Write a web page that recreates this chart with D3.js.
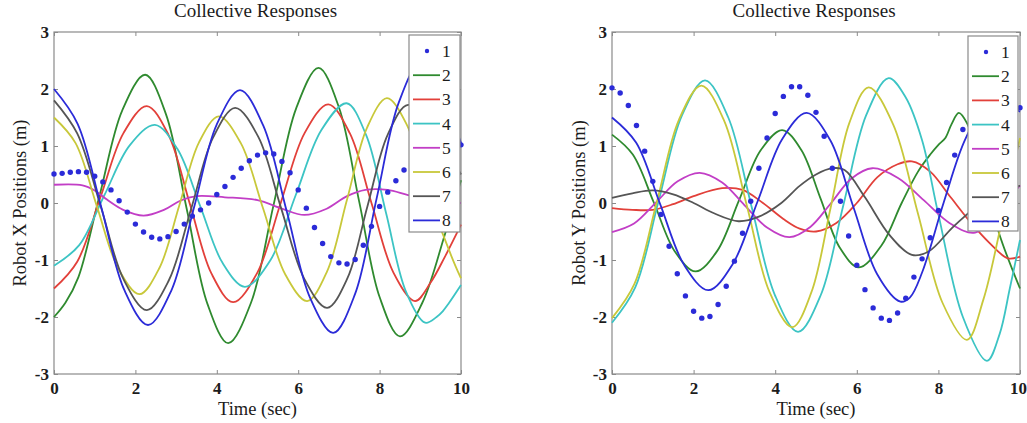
<!DOCTYPE html>
<html><head><meta charset="utf-8">
<script src="https://cdn.jsdelivr.net/npm/d3@7"></script>
<style>
body{margin:0;background:#fff}
svg{display:block}
text{font-family:"Liberation Serif","Times New Roman",serif;fill:#1c1c1c}
</style>
</head><body>
<svg id="chart" width="1027" height="423"></svg>
<script>
// ---------- labels / ticks ----------
const seriesNames = ["1","2","3","4","5","6","7","8"];
const seriesColors = ["#2b2bd8","#2f8a2f","#e2403a","#3cc4c4","#c23ec6","#c8c83a","#555555","#2b2bd8"];
const xTicks = [0,2,4,6,8,10];
const yTicks = [-3,-2,-1,0,1,2,3];
const titleText = "Collective Responses";
const xLabelText = "Time (sec)";
const yLabelLeft = "Robot X Positions (m)";
const yLabelRight = "Robot Y Positions (m)";

// ---------- series 1 (markers) ----------
const dotTimes = [0,0.2,0.4,0.6,0.8,1.0,1.2,1.4,1.6,1.8,2.0,2.2,2.4,2.6,2.8,3.0,3.2,3.4,3.6,3.8,4.0,4.2,4.4,4.6,4.8,5.0,5.2,5.4,5.6,5.8,6.0,6.2,6.4,6.6,6.8,7.0,7.2,7.4,7.6,7.8,8.0,8.2,8.4,8.6,8.8,9.0,9.2,9.4,9.6,9.8,10.0];
const xS1 = [0.51,0.52,0.54,0.55,0.54,0.47,0.37,0.23,0.04,-0.16,-0.37,-0.51,-0.60,-0.63,-0.59,-0.50,-0.37,-0.23,-0.12,0.00,0.15,0.29,0.45,0.61,0.74,0.84,0.88,0.86,0.73,0.53,0.23,-0.09,-0.43,-0.71,-0.94,-1.05,-1.07,-0.99,-0.74,-0.41,-0.06,0.19,0.39,0.58,0.75,0.88,0.98,1.04,1.06,1.05,1.02];
const yS1 = [2.02,1.93,1.71,1.36,0.91,0.38,-0.20,-0.76,-1.24,-1.63,-1.90,-2.02,-1.99,-1.78,-1.46,-1.02,-0.53,0.03,0.61,1.14,1.57,1.87,2.04,2.04,1.89,1.59,1.17,0.61,0.03,-0.58,-1.09,-1.52,-1.84,-2.02,-2.06,-1.93,-1.67,-1.30,-0.98,-0.61,-0.13,0.36,0.84,1.29,1.62,1.85,1.98,2.00,1.95,1.82,1.67];

// ---------- left chart (X positions): [time, value] ----------
const xS2 = [[0,-2.0],[0.28,-1.75],[0.6,-1.3],[1.12,0.13],[1.68,1.63],[2.24,2.25],[2.75,1.56],[3.26,-0.1],[3.77,-1.77],[4.28,-2.46],[4.84,-1.75],[5.39,-0.05],[5.95,1.66],[6.5,2.37],[7.0,1.68],[7.5,0.02],[8.0,-1.65],[8.5,-2.34],[9.05,-1.75],[9.6,-0.56],[10,0.4]];
const xS3 = [[0,-1.5],[0.57,-1.03],[1.14,0.1],[1.71,1.23],[2.28,1.7],[2.81,1.2],[3.34,-0.02],[3.87,-1.24],[4.4,-1.74],[4.99,-1.23],[5.57,0.0],[6.16,1.23],[6.74,1.73],[7.27,1.22],[7.8,0.0],[8.34,-1.22],[8.87,-1.72],[9.25,-1.4],[9.6,-0.95],[10,-0.38]];
const xS4 = [[0,-1.1],[0.62,-0.74],[1.24,0.14],[1.86,1.01],[2.48,1.37],[3.03,0.95],[3.59,-0.05],[4.14,-1.05],[4.69,-1.47],[5.32,-1.0],[5.94,0.14],[6.57,1.28],[7.19,1.75],[7.67,1.19],[8.16,-0.18],[8.64,-1.54],[9.12,-2.1],[9.4,-2.0],[9.55,-1.9],[9.7,-1.76],[10,-1.44]];
const xS5 = [[0,0.32],[0.7,0.31],[1.0,0.22],[1.3,0.06],[1.7,-0.12],[2.2,-0.22],[2.7,-0.12],[3.1,0.04],[3.5,0.12],[4.2,0.1],[5.0,0.05],[5.6,-0.1],[6.15,-0.21],[6.7,-0.1],[7.2,0.12],[7.65,0.23],[8.2,0.23],[8.7,0.14],[9.3,0.05],[10,0.0]];
const xS6 = [[0,1.5],[0.53,1.05],[1.05,-0.05],[1.58,-1.15],[2.1,-1.6],[2.59,-1.14],[3.08,-0.04],[3.56,1.06],[4.05,1.52],[4.59,1.05],[5.14,-0.1],[5.68,-1.25],[6.22,-1.72],[6.71,-1.2],[7.2,0.06],[7.69,1.32],[8.18,1.84],[8.67,1.37],[9.25,0.05],[9.86,-1.1],[10,-1.32]];
const xS7 = [[0,1.8],[0.57,1.22],[1.14,-0.04],[1.71,-1.34],[2.28,-1.88],[2.82,-1.36],[3.37,-0.1],[3.91,1.15],[4.45,1.67],[5.02,1.16],[5.58,-0.09],[6.15,-1.33],[6.71,-1.84],[7.21,-1.32],[7.7,-0.06],[8.2,1.2],[8.7,1.72],[9.3,1.3],[10,0.5]];
const xS8 = [[0,2.0],[0.58,1.39],[1.16,-0.07],[1.73,-1.53],[2.31,-2.14],[2.88,-1.54],[3.44,-0.08],[4.0,1.38],[4.57,1.98],[5.14,1.36],[5.72,-0.15],[6.29,-1.66],[6.86,-2.28],[7.4,-1.59],[7.93,0.09],[8.47,1.76],[9.0,2.45],[9.5,1.95],[10,1.05]];

// ---------- right chart (Y positions): [time, value] ----------
const yS2 = [[0,1.2],[0.51,0.85],[1.03,0.0],[1.54,-0.85],[2.05,-1.2],[2.58,-0.84],[3.11,0.04],[3.64,0.92],[4.17,1.28],[4.64,0.93],[5.11,0.08],[5.58,-0.78],[6.05,-1.13],[6.6,-0.75],[7.1,0.0],[7.5,0.55],[7.8,0.85],[8.0,1.02],[8.17,1.14],[8.32,1.38],[8.5,1.58],[8.7,1.4],[9.1,0.5],[9.5,-0.56],[10,-1.5]];
const yS3 = [[0,-0.09],[0.5,-0.12],[1.0,-0.12],[1.5,-0.02],[2.0,0.12],[2.7,0.26],[3.2,0.23],[3.7,0.0],[4.2,-0.28],[4.6,-0.45],[5.0,-0.5],[5.5,-0.35],[6.0,0.0],[6.5,0.45],[7.0,0.68],[7.35,0.73],[7.8,0.55],[8.3,0.1],[8.8,-0.35],[9.25,-0.7],[9.7,-0.97],[10,-0.94]];
const yS4 = [[0,-2.1],[0.57,-1.48],[1.14,0.03],[1.71,1.53],[2.28,2.15],[2.85,1.5],[3.42,-0.06],[3.99,-1.61],[4.56,-2.26],[5.12,-1.61],[5.67,-0.04],[6.23,1.54],[6.78,2.19],[7.2,1.85],[7.6,1.1],[8.0,-0.2],[8.6,-2.0],[9.19,-2.77],[9.5,-2.3],[9.75,-1.5],[10,-0.65]];
const yS5 = [[0,-0.51],[0.54,-0.36],[1.08,0.01],[1.61,0.38],[2.15,0.53],[2.7,0.36],[3.25,-0.04],[3.8,-0.43],[4.35,-0.6],[4.86,-0.42],[5.37,0.0],[5.87,0.43],[6.38,0.61],[7.01,0.44],[7.64,0.05],[8.27,-0.35],[8.9,-0.52],[9.5,-0.1],[10,0.31]];
const yS6 = [[0,-2.02],[0.55,-1.42],[1.1,0.02],[1.64,1.46],[2.19,2.06],[2.75,1.44],[3.31,-0.06],[3.86,-1.56],[4.42,-2.18],[4.89,-1.56],[5.36,-0.08],[5.82,1.41],[6.29,2.03],[6.89,1.38],[7.5,-0.19],[8.1,-1.75],[8.7,-2.4],[9.1,-1.7],[9.5,-0.5],[9.75,0.35],[10,1.14]];
const yS7 = [[0,0.09],[0.5,0.17],[1.0,0.22],[1.5,0.15],[2.0,0.0],[2.5,-0.18],[3.1,-0.32],[3.6,-0.24],[4.15,0.0],[4.6,0.3],[5.0,0.5],[5.4,0.61],[5.7,0.58],[6.2,0.1],[6.8,-0.56],[7.35,-0.91],[7.76,-0.85],[8.33,-0.44],[8.7,-0.2],[9.2,0.1],[9.6,0.25],[10,0.3]];
const yS8 = [[0,1.5],[0.59,1.06],[1.18,-0.02],[1.77,-1.09],[2.36,-1.53],[2.96,-1.07],[3.57,0.03],[4.17,1.12],[4.77,1.58],[5.35,1.1],[5.92,-0.08],[6.5,-1.25],[7.07,-1.73],[7.3,-1.66],[7.6,-1.22],[8.13,0.01],[8.66,1.12],[9.2,1.75],[9.6,1.72],[10,1.6]];

const svg = d3.select("#chart");

function drawPanel(cfg) {
  const x = d3.scaleLinear().domain([0,10]).range([cfg.x0, cfg.x1]);
  const y = d3.scaleLinear().domain([-3,3]).range([374, 32]);
  const g = svg.append("g");
  const axisColor = "#8a8a8a";

  // frame
  g.append("rect").attr("x", cfg.x0).attr("y", 32)
    .attr("width", cfg.x1 - cfg.x0).attr("height", 342)
    .attr("fill", "none").attr("stroke", axisColor).attr("stroke-width", 1.2);

  const styleAxis = sel => {
    sel.select(".domain").remove();
    sel.selectAll(".tick line").attr("stroke", axisColor);
    sel.selectAll(".tick text").attr("font-size", 17).attr("font-weight", "bold").attr("fill", "#222")
      .attr("font-family", '"Liberation Serif","Times New Roman",serif');
  };
  const fmt = d => String(d);
  const xb = g.append("g").attr("transform", `translate(0,374)`)
    .call(d3.axisBottom(x).tickValues(xTicks).tickFormat(fmt).tickSizeInner(-4).tickSizeOuter(0).tickPadding(8))
    .call(styleAxis);
  if (cfg.lastTickShift) {
    xb.selectAll(".tick text").filter(d => d === 10).attr("dx", cfg.lastTickShift);
  }
  g.append("g").attr("transform", `translate(0,32)`)
    .call(d3.axisTop(x).tickValues(xTicks).tickFormat("").tickSizeInner(-4).tickSizeOuter(0))
    .call(styleAxis);
  g.append("g").attr("transform", `translate(${cfg.x0},0)`)
    .call(d3.axisLeft(y).tickValues(yTicks).tickFormat(fmt).tickSizeInner(-4).tickSizeOuter(0).tickPadding(5))
    .call(styleAxis);
  g.append("g").attr("transform", `translate(${cfg.x1},0)`)
    .call(d3.axisRight(y).tickValues(yTicks).tickFormat("").tickSizeInner(-4).tickSizeOuter(0))
    .call(styleAxis);

  // title & labels
  g.append("text").attr("x", (cfg.x0 + cfg.x1) / 2 - 2).attr("y", 17)
    .attr("text-anchor", "middle").attr("font-size", 19)
    .text(titleText);
  g.append("text").attr("x", (cfg.x0 + cfg.x1) / 2).attr("y", 415)
    .attr("text-anchor", "middle").attr("font-size", 18.5).text(xLabelText);
  g.append("text").attr("transform", `translate(${cfg.yLabelX},203) rotate(-90)`)
    .attr("text-anchor", "middle").attr("font-size", 18.5).text(cfg.yLabel);

  // series
  const line = d3.line().x(d => x(d[0])).y(d => y(d[1])).curve(d3.curveCatmullRom.alpha(0.5));
  cfg.lines.forEach((s, i) => {
    g.append("path").datum(s).attr("d", line)
      .attr("fill", "none").attr("stroke", seriesColors[i + 1])
      .attr("stroke-width", 1.8).attr("stroke-linejoin", "round");
  });
  g.append("g").selectAll("circle").data(dotTimes.map((t, i) => [t, cfg.dots[i]]))
    .join("circle").attr("cx", d => x(d[0])).attr("cy", d => y(d[1]))
    .attr("r", 2.7).attr("fill", seriesColors[0]);

  // legend
  const L = cfg.legend;
  const lg = g.append("g");
  lg.append("rect").attr("x", L.x).attr("y", L.y).attr("width", L.w).attr("height", L.h)
    .attr("fill", "#fff").attr("stroke", axisColor).attr("stroke-width", 1.2);
  seriesNames.forEach((name, i) => {
    const ry = L.y + 16 + i * 24.2;
    if (i === 0) {
      lg.append("circle").attr("cx", L.x + 18).attr("cy", ry).attr("r", 2.2).attr("fill", seriesColors[0]);
    } else {
      lg.append("line").attr("x1", L.x + 4).attr("x2", L.x + 31).attr("y1", ry).attr("y2", ry)
        .attr("stroke", seriesColors[i]).attr("stroke-width", 1.8);
    }
    lg.append("text").attr("x", L.x + 33).attr("y", ry).attr("dy", "0.34em")
      .attr("font-size", 17.5).attr("fill", "#333").text(name);
  });
}

drawPanel({x0: 54, x1: 461, yLabelX: 26, yLabel: yLabelLeft,
  lines: [xS2, xS3, xS4, xS5, xS6, xS7, xS8], dots: xS1,
  legend: {x: 409, y: 35, w: 51, h: 197}});
drawPanel({x0: 612, x1: 1020, yLabelX: 585, yLabel: yLabelRight, lastTickShift: -2,
  lines: [yS2, yS3, yS4, yS5, yS6, yS7, yS8], dots: yS1,
  legend: {x: 968, y: 36, w: 50, h: 195}});
</script>
</body></html>
